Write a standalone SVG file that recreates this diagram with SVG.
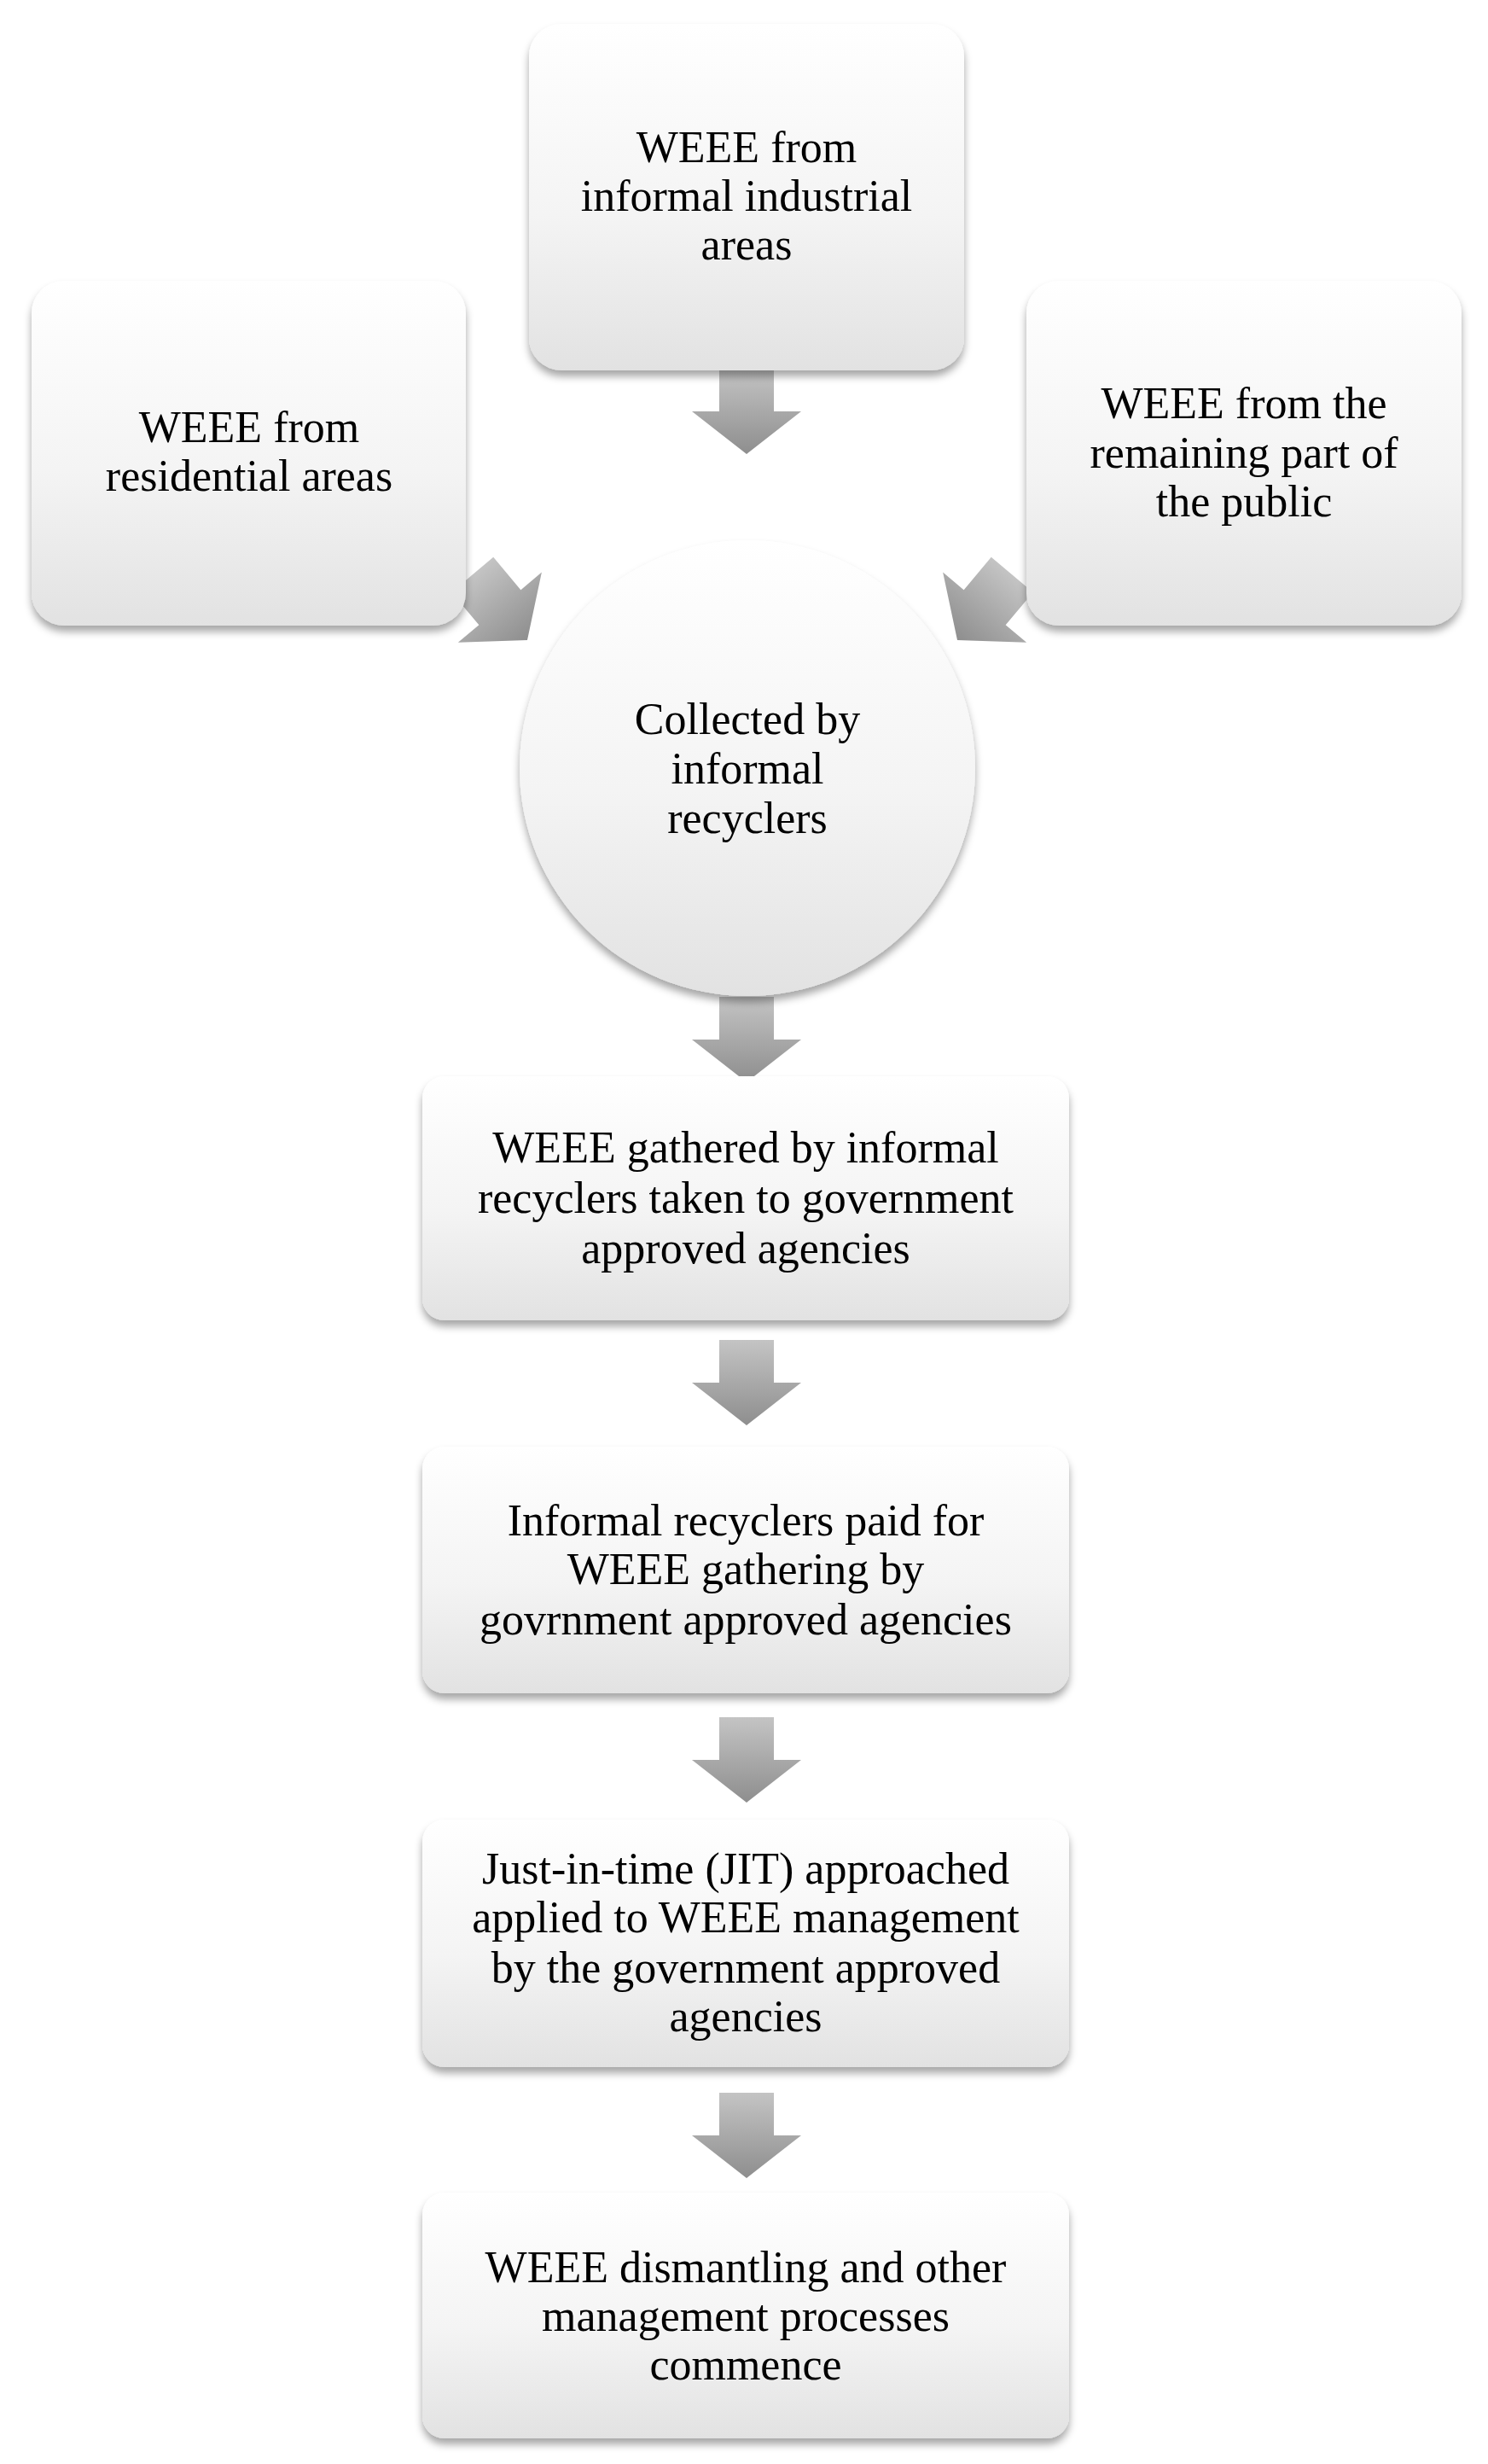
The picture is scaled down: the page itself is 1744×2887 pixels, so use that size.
<svg xmlns="http://www.w3.org/2000/svg" width="1744" height="2887" viewBox="0 0 1744 2887">
<defs>
<linearGradient id="bg" x1="0" y1="0" x2="0" y2="1"><stop offset="0" stop-color="#ffffff"/><stop offset="0.55" stop-color="#f4f4f4"/><stop offset="1" stop-color="#e2e2e2"/></linearGradient>
<linearGradient id="ag" x1="0" y1="0" x2="0" y2="1"><stop offset="0" stop-color="#c4c4c4"/><stop offset="1" stop-color="#8e8e8e"/></linearGradient>
<filter id="sh" x="-10%" y="-10%" width="120%" height="125%"><feDropShadow dx="0" dy="7" stdDeviation="5" flood-color="#000" flood-opacity="0.35"/></filter>
<path id="arr" d="M-32,-100 L32,-100 L32,-50 L64,-50 L0,0 L-64,-50 L-32,-50 Z"/>
</defs>
<style>
.n{fill:url(#bg);filter:url(#sh)}
.a{fill:url(#ag)}
text{font-family:"Liberation Serif","Times New Roman",serif;font-size:52px;fill:#000;text-anchor:middle;dominant-baseline:central}
</style>
<rect width="1744" height="2887" fill="#fff"/>
<g id="connectors">
<use href="#arr" class="a" transform="translate(875,532)"/>
<use href="#arr" class="a" transform="translate(618,750) rotate(-40)"/>
<use href="#arr" class="a" transform="translate(1122,750) rotate(40)"/>
<use href="#arr" class="a" transform="translate(875,1268)"/>
<use href="#arr" class="a" transform="translate(875,1670)"/>
<use href="#arr" class="a" transform="translate(875,2112)"/>
<use href="#arr" class="a" transform="translate(875,2552)"/>
</g>
<g id="n1"><rect class="n" x="620" y="28" width="510" height="406" rx="38"/><text x="875" y="172">WEEE from</text><text x="875" y="229">informal industrial</text><text x="875" y="286">areas</text></g>
<g id="n2"><rect class="n" x="37" y="329" width="509" height="404" rx="38"/><text x="292" y="500">WEEE from</text><text x="292" y="557">residential areas</text></g>
<g id="n3"><rect class="n" x="1203" y="329" width="510" height="404" rx="38"/><text x="1458" y="472">WEEE from the</text><text x="1458" y="530">remaining part of</text><text x="1458" y="587">the public</text></g>
<g id="n4"><circle class="n" cx="876" cy="900" r="267"/><text x="876" y="842">Collected by</text><text x="876" y="900">informal</text><text x="876" y="958">recyclers</text></g>
<g id="n5"><rect class="n" x="495" y="1261" width="758" height="286" rx="26"/><text x="874" y="1344">WEEE gathered by informal</text><text x="874" y="1403">recyclers taken to government</text><text x="874" y="1462">approved agencies</text></g>
<g id="n6"><rect class="n" x="495" y="1695" width="758" height="289" rx="26"/><text x="874" y="1781">Informal recyclers paid for</text><text x="874" y="1838">WEEE gathering by</text><text x="874" y="1897">govrnment approved agencies</text></g>
<g id="n7"><rect class="n" x="495" y="2132" width="758" height="290" rx="26"/><text x="874" y="2189">Just-in-time (JIT) approached</text><text x="874" y="2246">applied to WEEE management</text><text x="874" y="2305">by the government approved</text><text x="874" y="2362">agencies</text></g>
<g id="n8"><rect class="n" x="495" y="2569" width="758" height="288" rx="26"/><text x="874" y="2656">WEEE dismantling and other</text><text x="874" y="2713">management processes</text><text x="874" y="2770">commence</text></g>
</svg>
